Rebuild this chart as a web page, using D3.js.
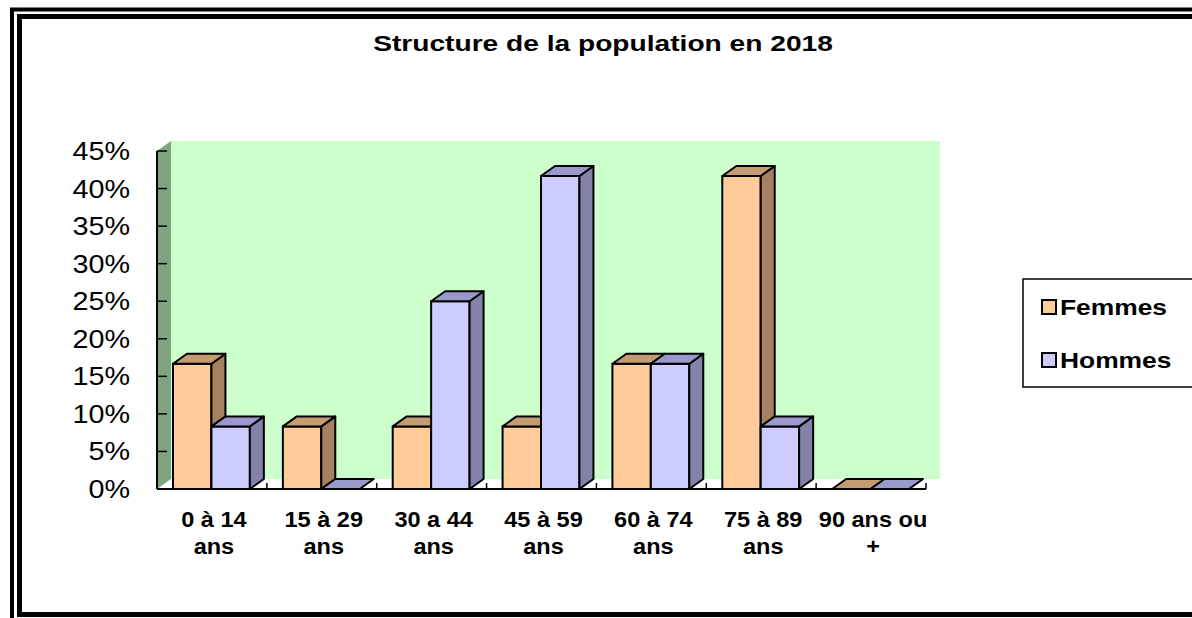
<!DOCTYPE html>
<html>
<head>
<meta charset="utf-8">
<script src="https://cdn.jsdelivr.net/npm/d3@7"></script>
<style>
  body { margin: 0; background: #fff; }
  svg { display: block; font-family: Arial, "Liberation Sans", sans-serif; }
</style>
</head>
<body>
<svg id="chart" width="1192" height="618"></svg>
<script>
// data (share of each sex per age group)
const categories = [["0 à 14", "ans"], ["15 à 29", "ans"], ["30 a 44", "ans"], ["45 à 59", "ans"],
                    ["60 à 74", "ans"], ["75 à 89", "ans"], ["90 ans ou", "+"]];
const series = ["Femmes", "Hommes"];
const femmes = [0.1667, 0.0833, 0.0833, 0.0833, 0.1667, 0.4167, 0];
const hommes = [0.0833, 0, 0.25, 0.4167, 0.1667, 0.0833, 0];
const yTicks = [0, 0.05, 0.10, 0.15, 0.20, 0.25, 0.30, 0.35, 0.40, 0.45];

const colors = {
  Femmes: {front: '#FFCC99', top: '#C49C72', side: '#A68060'},
  Hommes: {front: '#CCCCFF', top: '#9999CC', side: '#8282AA'}
};

const svg = d3.select('#chart');

// the original text is a bit stretched sideways, hence scale(sx,1)
function stretched(px, py, sx) {
  return svg.append('g').attr('transform', `translate(${px},${py}) scale(${sx},1)`);
}

// double frame
svg.append('rect').attr('x', 12).attr('y', 9.5).attr('width', 1300).attr('height', 700)
  .attr('fill', 'none').attr('stroke', '#000').attr('stroke-width', 4);
svg.append('rect').attr('x', 19.5).attr('y', 16.5).attr('width', 1300).attr('height', 598)
  .attr('fill', 'none').attr('stroke', '#000').attr('stroke-width', 5);

stretched(603, 51, 1.28).append('text')
  .attr('text-anchor', 'middle')
  .attr('font-size', 22).attr('font-weight', 'bold')
  .text('Structure de la population en 2018');

const left = 157, right = 926, bottom = 489;
const dx = 14, dy = -10;

const x = d3.scaleBand().domain(d3.range(categories.length)).range([left, right]);
const xs = d3.scaleBand().domain(series).range([16, x.bandwidth() - 17]);
const y = d3.scaleLinear().domain([0, 0.45]).range([bottom, 151]);

// back wall
svg.append('rect')
  .attr('x', left + dx).attr('y', y(0.45) + dy)
  .attr('width', right - left).attr('height', y(0) - y(0.45))
  .attr('fill', '#CCFFCC');

// side wall
svg.append('polygon')
  .attr('points', [[left, y(0.45)], [left + dx, y(0.45) + dy], [left + dx, y(0) + dy], [left, y(0)]].join(' '))
  .attr('fill', '#80A480');

// y axis
svg.append('line').attr('x1', left).attr('x2', left).attr('y1', y(0.45)).attr('y2', y(0))
  .attr('stroke', '#000').attr('stroke-width', 2);
svg.selectAll('.ytick').data(yTicks).enter().append('line')
  .attr('x1', left).attr('x2', left + 10)
  .attr('y1', d => y(d)).attr('y2', d => y(d))
  .attr('stroke', '#000').attr('stroke-width', 1.5);
yTicks.forEach(d => {
  stretched(130, y(d), 1.15).append('text')
    .attr('dy', '0.36em')
    .attr('text-anchor', 'end')
    .attr('font-size', 25)
    .text(d3.format('.0%')(d));
});

// x axis
svg.append('line').attr('x1', left).attr('x2', right).attr('y1', bottom).attr('y2', bottom)
  .attr('stroke', '#000').attr('stroke-width', 2);
svg.selectAll('.xtick').data(d3.range(categories.length + 1)).enter().append('line')
  .attr('x1', i => left + i * x.step()).attr('x2', i => left + i * x.step())
  .attr('y1', bottom - 6).attr('y2', bottom)
  .attr('stroke', '#000').attr('stroke-width', 1.5);

categories.forEach((d, i) => {
  const t = stretched(x(i) + x.bandwidth() / 2 + 2, 0, 1.07).append('text')
    .attr('text-anchor', 'middle')
    .attr('font-size', 22).attr('font-weight', 'bold');
  d.forEach((line, j) => {
    t.append('tspan').attr('x', 0).attr('y', 527 + j * 27).text(line);
  });
});

// 3D bars
const bars = [];
categories.forEach((c, i) => {
  bars.push({s: 'Femmes', i: i, v: femmes[i]});
  bars.push({s: 'Hommes', i: i, v: hommes[i]});
});

const g = svg.append('g').attr('stroke', '#000').attr('stroke-width', 2).attr('stroke-linejoin', 'round');
bars.forEach(b => {
  const x0 = x(b.i) + xs(b.s), x1 = x0 + xs.bandwidth();
  const y0 = y(0), y1 = y(b.v);
  const c = colors[b.s];
  if (b.v > 0) {
    g.append('rect').attr('x', x0).attr('y', y1).attr('width', x1 - x0).attr('height', y0 - y1)
      .attr('fill', c.front);
    g.append('polygon')
      .attr('points', [[x1, y1], [x1 + dx, y1 + dy], [x1 + dx, y0 + dy], [x1, y0]].join(' '))
      .attr('fill', c.side);
  }
  g.append('polygon')
    .attr('points', [[x0, y1], [x0 + dx, y1 + dy], [x1 + dx, y1 + dy], [x1, y1]].join(' '))
    .attr('fill', c.top);
});

// legend
svg.append('rect').attr('x', 1023).attr('y', 279).attr('width', 200).attr('height', 108)
  .attr('fill', '#fff').attr('stroke', '#000').attr('stroke-width', 1.5);
series.forEach((d, i) => {
  const row = svg.append('g').attr('transform', `translate(1042,${307 + i * 53})`);
  row.append('rect').attr('x', 0).attr('y', -7).attr('width', 14).attr('height', 14)
    .attr('fill', colors[d].front).attr('stroke', '#000').attr('stroke-width', 2);
  row.append('g').attr('transform', 'translate(18,0) scale(1.2,1)').append('text')
    .attr('dy', '0.36em')
    .attr('font-size', 22).attr('font-weight', 'bold')
    .text(d);
});
</script>
</body>
</html>
